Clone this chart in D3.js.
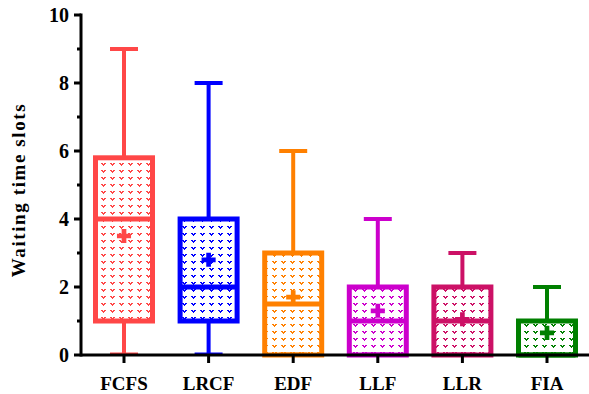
<!DOCTYPE html>
<html>
<head>
<meta charset="utf-8">
<script src="https://cdn.jsdelivr.net/npm/d3@7/dist/d3.min.js"></script>
<style>
  html, body { margin: 0; padding: 0; background: #fff; }
  svg { display: block; }
</style>
</head>
<body>
<svg id="chart" width="589" height="394"></svg>
<script>
// Scheduling policies and their waiting-time distributions
const categories = ["FCFS", "LRCF", "EDF", "LLF", "LLR", "FIA"];
const mins     = [0, 0, 0, 0, 0, 0];
const q1s      = [1, 1, 0, 0, 0, 0];
const medians  = [4, 2, 1.5, 1, 1, 0];
const q3s      = [5.8, 4, 3, 2, 2, 1];
const maxs     = [9, 8, 6, 4, 3, 2];
const means    = [3.5, 2.8, 1.7, 1.3, 1.05, 0.65];
const colors   = ["#ff4747", "#0000ff", "#ff8000", "#cc00cc", "#cc1166", "#008000"];
const yTicks   = [0, 2, 4, 6, 8, 10];
const yMinor   = [1, 3, 5, 7, 9];

const FONT = "'Liberation Serif', 'Times New Roman', Times, serif";

const svg = d3.select("#chart");
const y = d3.scaleLinear().domain([0, 10]).range([355, 15]);
const x = d3.scalePoint().domain(categories).range([124, 547]);

// small heart-shaped dot fill, one per colour
const defs = svg.append("defs");
colors.forEach((c, i) => {
  const p = defs.append("pattern")
    .attr("id", "pat" + i)
    .attr("patternUnits", "userSpaceOnUse")
    .attr("width", 9).attr("height", 7);
  p.append("rect").attr("width", 9).attr("height", 7).attr("fill", "#fff");
  p.append("rect").attr("x", 2).attr("y", 2).attr("width", 2).attr("height", 1).attr("fill", c);
  p.append("rect").attr("x", 5).attr("y", 2).attr("width", 2).attr("height", 1).attr("fill", c);
  p.append("rect").attr("x", 3).attr("y", 3).attr("width", 3).attr("height", 1).attr("fill", c);
  p.append("rect").attr("x", 4).attr("y", 4).attr("width", 1).attr("height", 1).attr("fill", c);
});

const data = categories.map((k, i) => ({
  k, i, min: mins[i], q1: q1s[i], med: medians[i], q3: q3s[i], max: maxs[i], mean: means[i], c: colors[i]
}));

const boxHalf = 28.5, capHalf = 14;

const g = svg.append("g");
const item = g.selectAll("g.box").data(data).join("g").attr("class", "box");

// whiskers
item.append("line")
  .attr("x1", d => x(d.k)).attr("x2", d => x(d.k))
  .attr("y1", d => y(d.q3)).attr("y2", d => y(d.max))
  .attr("stroke", d => d.c).attr("stroke-width", 4);
item.append("line")
  .attr("x1", d => x(d.k)).attr("x2", d => x(d.k))
  .attr("y1", d => y(d.q1)).attr("y2", d => y(d.min))
  .attr("stroke", d => d.c).attr("stroke-width", 4);
// caps
item.append("line")
  .attr("x1", d => x(d.k) - capHalf).attr("x2", d => x(d.k) + capHalf)
  .attr("y1", d => y(d.max)).attr("y2", d => y(d.max))
  .attr("stroke", d => d.c).attr("stroke-width", 4);

// boxes
item.append("rect")
  .attr("x", d => x(d.k) - boxHalf)
  .attr("width", boxHalf * 2)
  .attr("y", d => y(d.q3))
  .attr("height", d => y(d.q1) - y(d.q3))
  .attr("fill", d => "url(#pat" + d.i + ")")
  .attr("stroke", d => d.c).attr("stroke-width", 5);

// medians
item.append("line")
  .attr("x1", d => x(d.k) - boxHalf).attr("x2", d => x(d.k) + boxHalf)
  .attr("y1", d => y(d.med)).attr("y2", d => y(d.med))
  .attr("stroke", d => d.c).attr("stroke-width", 5);

// means
item.append("path")
  .attr("transform", d => `translate(${x(d.k)},${y(d.mean)})`)
  .attr("d", d3.symbol(d3.symbolCross, 110))
  .attr("fill", d => d.c);

// axes
const axes = svg.append("g");
axes.append("line")
  .attr("x1", 81).attr("x2", 589).attr("y1", y(0)).attr("y2", y(0))
  .attr("stroke", "#000").attr("stroke-width", 3);
axes.append("line")
  .attr("x1", 81).attr("x2", 81).attr("y1", y(0) + 1.5).attr("y2", y(10) - 1.5)
  .attr("stroke", "#000").attr("stroke-width", 3);

// bottom caps at the minimum drawn over the axis line
item.append("line")
  .attr("x1", d => x(d.k) - capHalf).attr("x2", d => x(d.k) + capHalf)
  .attr("y1", d => y(d.min) - 1).attr("y2", d => y(d.min) - 1)
  .attr("stroke", d => d.c).attr("stroke-width", 3);

axes.selectAll("line.ymaj").data(yTicks).join("line")
  .attr("x1", 74).attr("x2", 81).attr("y1", d => y(d)).attr("y2", d => y(d))
  .attr("stroke", "#000").attr("stroke-width", 3);
axes.selectAll("line.ymin").data(yMinor).join("line")
  .attr("x1", 77).attr("x2", 81).attr("y1", d => y(d)).attr("y2", d => y(d))
  .attr("stroke", "#000").attr("stroke-width", 3);
axes.selectAll("text.ylab").data(yTicks).join("text")
  .attr("x", 69).attr("y", d => y(d) + 7)
  .attr("text-anchor", "end")
  .attr("font-family", FONT).attr("font-weight", "700")
  .attr("font-size", 20)
  .text(d => d);

axes.selectAll("line.xt").data(categories).join("line")
  .attr("x1", d => x(d)).attr("x2", d => x(d)).attr("y1", y(0)).attr("y2", y(0) + 8)
  .attr("stroke", "#000").attr("stroke-width", 3);
axes.selectAll("text.xlab").data(categories).join("text")
  .attr("x", d => x(d)).attr("y", 390)
  .attr("text-anchor", "middle")
  .attr("font-family", FONT).attr("font-weight", "700")
  .attr("font-size", 19)
  .text(d => d);

svg.append("text")
  .attr("transform", "translate(25,190) rotate(-90)")
  .attr("text-anchor", "middle")
  .attr("font-family", FONT).attr("font-weight", "700")
  .attr("font-size", 19)
  .attr("letter-spacing", 1.6)
  .text("Waiting time slots");
</script>
</body>
</html>
